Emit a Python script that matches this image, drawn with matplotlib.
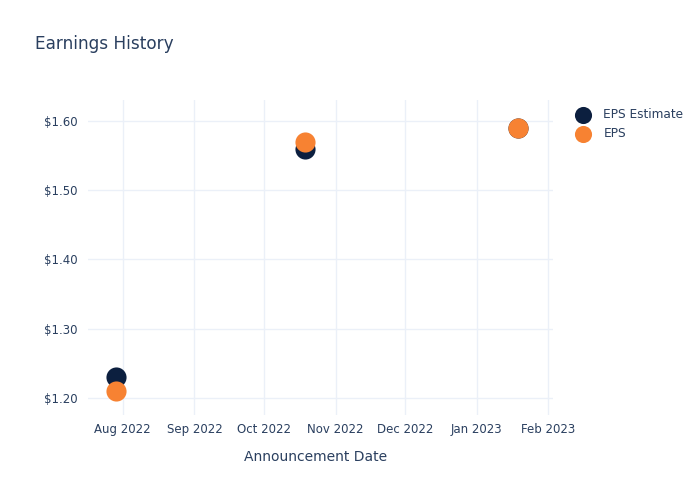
import matplotlib
matplotlib.use("Agg")
import matplotlib.pyplot as plt
import datetime as dt

dates = ["2022-07-29", "2022-10-19", "2023-01-19"]
eps_estimate = [1.23, 1.56, 1.59]
eps_actual = [1.21, 1.57, 1.59]
tick_labels = ["Aug 2022", "Sep 2022", "Oct 2022", "Nov 2022", "Dec 2022", "Jan 2023", "Feb 2023"]
tick_dates = ["2022-08-01", "2022-09-01", "2022-10-01", "2022-11-01", "2022-12-01", "2023-01-01", "2023-02-01"]
y_ticks = [1.20, 1.30, 1.40, 1.50, 1.60]

text_color = "#2a3f5f"
grid_color = "#ebf0f8"

x = [dt.datetime.strptime(d, "%Y-%m-%d") for d in dates]
xt = [dt.datetime.strptime(d, "%Y-%m-%d") for d in tick_dates]

fig = plt.figure(figsize=(7, 5), dpi=100)
ax = fig.add_axes([88/700, 1-415/500, (553-88)/700, (415-100)/500])

ax.scatter(x, eps_estimate, s=210, color="#0c1f3f", label="EPS Estimate", zorder=3, linewidths=0)
ax.scatter(x, eps_actual, s=210, color="#f78232", label="EPS", zorder=4, linewidths=0)

ax.set_xlim(dt.datetime(2022, 7, 17), dt.datetime(2023, 2, 3))
ax.set_ylim(1.1755, 1.630)
ax.set_xticks(xt)
ax.set_xticklabels(tick_labels)
ax.set_yticks(y_ticks)
ax.set_yticklabels([f"${v:.2f}" for v in y_ticks])

for s in ax.spines.values():
    s.set_visible(False)
ax.grid(True, color=grid_color, linewidth=1)
ax.set_axisbelow(True)
ax.tick_params(axis="both", length=0, labelsize=8.5, colors=text_color, pad=6)
ax.tick_params(axis="y", pad=7.5)

ax.set_xlabel("Announcement Date", fontsize=10, color=text_color, labelpad=9)
ax.xaxis.set_label_coords(0.49, -0.11)
ax.xaxis.label.set_va("top")
fig.text(35/700, 1-44/500, "Earnings History", fontsize=12.2, color=text_color, va="center", ha="left")

leg = fig.legend(loc="upper left", bbox_to_anchor=(566/700, 1-103/500), frameon=False,
                 fontsize=8.7, labelcolor=text_color, handletextpad=0.7, borderaxespad=0,
                 labelspacing=0.5, markerscale=0.85)

fig.savefig("out.png", dpi=100, facecolor="white")
